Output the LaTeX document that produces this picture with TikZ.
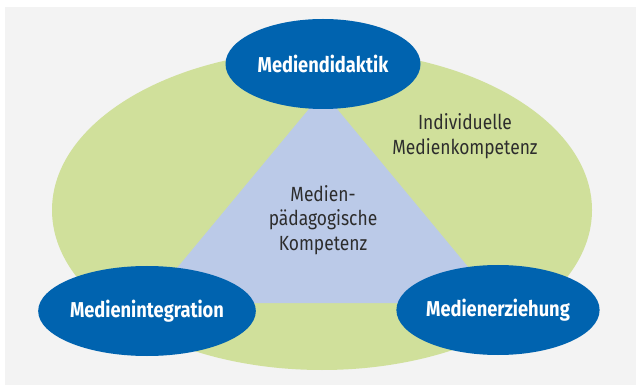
\documentclass[tikz,border=0pt]{standalone}
\usepackage{fontspec}
\setmainfont[FakeStretch=0.85]{Fira Sans}
\usepackage{xcolor}
\usetikzlibrary{shapes.geometric}
\definecolor{mdblue}{RGB}{0,99,175}
\definecolor{mdgreen}{RGB}{208,224,155}
\definecolor{mdtri}{RGB}{187,202,232}
\definecolor{mdbg}{RGB}{243,243,243}
\definecolor{mdtext}{RGB}{45,45,45}
\tikzset{
	area/.style={ellipse,fill=mdblue,text=white,inner sep=0pt,
			minimum width=195pt,minimum height=90pt,
			font=\fontsize{21.5}{24}\selectfont\bfseries},
	label/.style={text=mdtext,align=center,
			font=\fontsize{20.5}{24.5}\selectfont}
}

\begin{document}
\begin{tikzpicture}[x=1pt,y=1pt]
		\useasboundingbox (0,0) rectangle (636,388);
		\fill[mdbg] (5,3) rectangle (636,381);

		\fill[mdgreen] (322,178) ellipse (270 and 160);

		\coordinate (t1) at (323,296);
		\coordinate (t2) at (148,85);
		\coordinate (t3) at (498,85);
		\fill[mdtri] (t1) -- (t2) -- (t3) -- cycle;

		\node[area] (didaktik) at (323,324) {Mediendidaktik};
		\node[area] (integration) at (147,77) {Medienintegration};
		\node[area] (erziehung) at (498,78) {Medienerziehung};

		\node[label] (individuell) at (465,252) {Individuelle\\Medienkompetenz};
		\node[label] (paed) at (323,168) {Medien-\\pädagogische\\Kompetenz};
	\end{tikzpicture}
\end{document}
